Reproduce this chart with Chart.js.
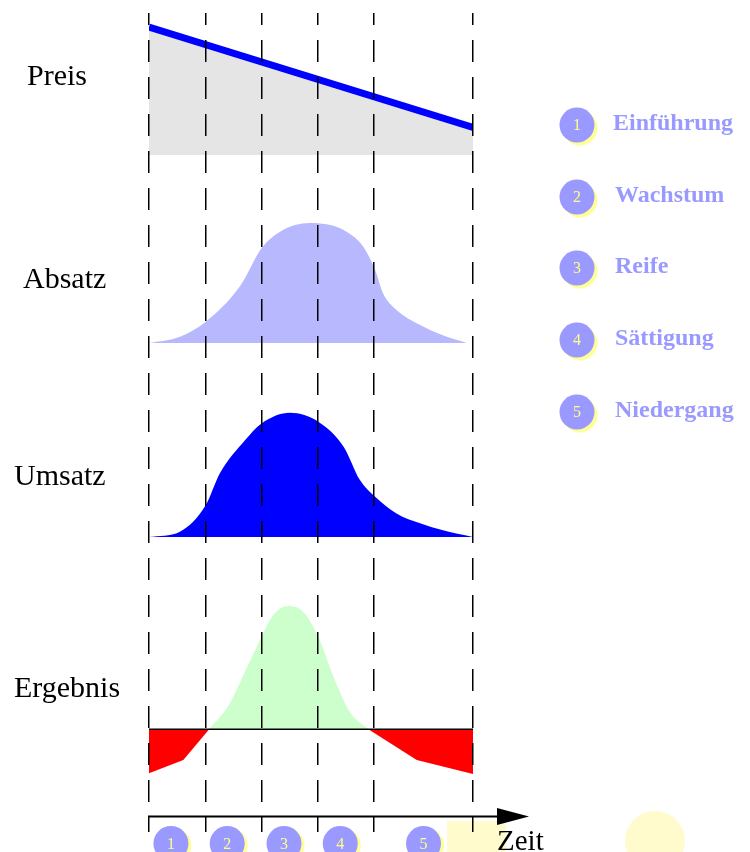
<!DOCTYPE html>
<html lang="de">
<head>
<meta charset="utf-8">
<title>Produktlebenszyklus</title>
<script src="https://cdn.jsdelivr.net/npm/chart.js@4.4.1/dist/chart.umd.min.js"></script>
<style>
  html, body { margin: 0; padding: 0; background: #fff; }
  #wrap { width: 750px; height: 852px; position: relative; }
</style>
</head>
<body>
<div id="wrap"><canvas id="zyklus" width="750" height="852"></canvas></div>
<script>
// Zeitachse: eine Einheit = eine Phase, die letzte Phase ist länger
const phasenGrenzen = [0, 1, 2, 3, 4, 5.76];
const phasenMitte = [0.39, 1.39, 2.4, 3.4, 4.88];
const phasenNamen = ['Einführung', 'Wachstum', 'Reife', 'Sättigung', 'Niedergang'];
const panelNamen = ['Preis', 'Absatz', 'Umsatz', 'Ergebnis'];

// Preis (fällt linear)
const preisZeit = [0, 5.76];
const preisWerte = [100, 21.5];

// Absatz
const absatzZeit = [0, 0.55, 1.01, 1.62, 2.0, 2.33, 2.86, 3.22, 3.51, 3.81, 4.02, 4.16, 4.40, 4.82, 5.21, 5.65];
const absatzWerte = [0, 5.3, 17.8, 47.5, 78.9, 92.8, 100, 98.3, 92.8, 80.3, 60.8, 41.4, 27.5, 15, 6.7, 0];

// Umsatz
const umsatzZeit = [0, 0.55, 1.01, 1.26, 1.71, 2.0, 2.51, 3.01, 3.46, 3.75, 4.02, 4.40, 4.82, 5.21, 5.76];
const umsatzWerte = [0, 4.3, 25.7, 51.2, 78, 91.4, 100, 92.8, 72.7, 45.8, 32.4, 19, 11, 5.6, 0];

// Ergebnis: Gewinn (positiv) und Verlust (negativ, null = Lücke)
const gewinnZeit = [1.07, 1.42, 1.72, 2.0, 2.21, 2.48, 2.74, 3.01, 3.28, 3.57, 3.90];
const gewinnWerte = [0, 19.7, 48, 75, 92.7, 100, 95.4, 75, 42.7, 14.3, 0];
const verlustZeit = [0, 0.61, 1.07, 2.5, 3.90, 4.76, 5.76];
const verlustWerte = [-35.7, -24.9, 0, null, 0, -24.9, -36.2];

const OBEN = 13, UNTEN = 832;

function punkte(zeit, werte) {
    return zeit.map((t, i) => ({ x: t, y: werte[i] }));
}

// min/max einer y-Achse, damit 0 bei pxNull und vOben bei pxOben liegt
function band(pxNull, pxOben, vOben) {
    const r = vOben * (UNTEN - OBEN) / (pxNull - pxOben);
    const min = -(UNTEN - pxNull) * r / (UNTEN - OBEN);
    return { type: 'linear', display: false, min: min, max: min + r };
}

function kreis(ctx, x, y, r, farbe) {
    ctx.beginPath();
    ctx.arc(x, y, r, 0, Math.PI * 2);
    ctx.fillStyle = farbe;
    ctx.fill();
}

function nummer(ctx, x, y, r, n, schatten) {
    kreis(ctx, x + schatten[0], y + schatten[1], r, '#ffff99');
    kreis(ctx, x, y, r, '#9999ff');
    ctx.fillStyle = '#ffff88';
    ctx.font = '16px "Liberation Serif"';
    ctx.textAlign = 'center';
    ctx.textBaseline = 'middle';
    ctx.fillText(String(n), x, y + 1);
}

const beschriftung = {
    id: 'beschriftung',
    beforeDraw(chart) {
        const ctx = chart.ctx;
        ctx.save();
        ctx.fillStyle = '#fffbcc';
        ctx.fillRect(447, 821, 59, 31);
        kreis(ctx, 655, 841, 30, '#fffbcc');
        ctx.restore();
    },
    afterDraw(chart) {
        const ctx = chart.ctx;
        const x = chart.scales.x;
        ctx.save();

        // Panel-Beschriftungen links
        const lx = [27, 23, 14, 14];
        const ly = [85, 288, 485, 697];
        ctx.fillStyle = '#000';
        ctx.font = '30px "Liberation Serif"';
        ctx.textAlign = 'left';
        ctx.textBaseline = 'alphabetic';
        panelNamen.forEach((n, i) => ctx.fillText(n, lx[i], ly[i]));

        // Zeitachse mit Pfeil
        const ay = 816.5;
        ctx.strokeStyle = '#000';
        ctx.lineWidth = 2;
        ctx.beginPath();
        ctx.moveTo(x.left - 1, ay);
        ctx.lineTo(500, ay);
        ctx.stroke();
        ctx.beginPath();
        ctx.moveTo(497, ay - 8.5);
        ctx.lineTo(529, ay);
        ctx.lineTo(497, ay + 8.5);
        ctx.closePath();
        ctx.fillStyle = '#000';
        ctx.fill();
        ctx.font = '29px "Liberation Serif"';
        ctx.textAlign = 'left';
        ctx.textBaseline = 'alphabetic';
        ctx.fillText('Zeit', 497, 850);

        // Phasennummern unter der Achse
        phasenMitte.forEach((t, i) => {
            nummer(ctx, x.getPixelForValue(t), 843.5, 17.5, i + 1, [3, 2]);
        });

        // Legende rechts
        const legY = [125, 197, 268, 340, 412];
        phasenNamen.forEach((name, i) => {
            nummer(ctx, 577, legY[i], 17.5, i + 1, [3, 3]);
            ctx.fillStyle = '#9999ff';
            ctx.font = 'bold 24px "Liberation Serif"';
            ctx.textAlign = 'left';
            ctx.textBaseline = 'alphabetic';
            ctx.fillText(name, i === 0 ? 613 : 615, legY[i] + 5);
        });
        ctx.restore();
    }
};

new Chart(document.getElementById('zyklus'), {
    type: 'line',
    data: {
        datasets: [
            {
                label: 'Nulllinie',
                data: punkte([0, 5.76], [0, 0]),
                yAxisID: 'yErgebnis',
                borderColor: '#000',
                borderWidth: 1.5,
                pointRadius: 0,
                fill: false
            },
            {
                label: 'Preis',
                data: punkte(preisZeit, preisWerte),
                yAxisID: 'yPreis',
                borderColor: '#0000ff',
                borderWidth: 7,
                backgroundColor: '#e5e5e5',
                pointRadius: 0,
                fill: 'origin'
            },
            {
                label: 'Absatz',
                data: punkte(absatzZeit, absatzWerte),
                yAxisID: 'yAbsatz',
                borderWidth: 0,
                backgroundColor: '#b8b8ff',
                cubicInterpolationMode: 'monotone',
                pointRadius: 0,
                fill: 'origin'
            },
            {
                label: 'Umsatz',
                data: punkte(umsatzZeit, umsatzWerte),
                yAxisID: 'yUmsatz',
                borderWidth: 0,
                backgroundColor: '#0000ff',
                cubicInterpolationMode: 'monotone',
                pointRadius: 0,
                fill: 'origin'
            },
            {
                label: 'Gewinn',
                data: punkte(gewinnZeit, gewinnWerte),
                yAxisID: 'yErgebnis',
                borderWidth: 0,
                backgroundColor: '#ccffcc',
                cubicInterpolationMode: 'monotone',
                pointRadius: 0,
                fill: 'origin'
            },
            {
                label: 'Verlust',
                data: punkte(verlustZeit, verlustWerte),
                yAxisID: 'yErgebnis',
                borderWidth: 0,
                backgroundColor: '#ff0000',
                tension: 0,
                spanGaps: false,
                pointRadius: 0,
                fill: 'origin'
            }
        ]
    },
    options: {
        responsive: false,
        animation: false,
        events: [],
        layout: { padding: { left: 149, right: 277, top: OBEN, bottom: 852 - UNTEN } },
        plugins: { legend: { display: false }, tooltip: { enabled: false } },
        scales: {
            x: {
                type: 'linear',
                min: 0,
                max: 5.76,
                afterBuildTicks: axis => { axis.ticks = phasenGrenzen.map(v => ({ value: v })); },
                ticks: { display: false },
                grid: { color: '#000', lineWidth: 1.5, drawTicks: false, z: 1 },
                border: { display: false, dash: [22, 15], dashOffset: 10 }
            },
            yPreis: band(155, 27, 100),
            yAbsatz: band(343, 223, 100),
            yUmsatz: band(537, 412.7, 100),
            yErgebnis: band(729.3, 606, 100)
        }
    },
    plugins: [beschriftung]
});
</script>
</body>
</html>
